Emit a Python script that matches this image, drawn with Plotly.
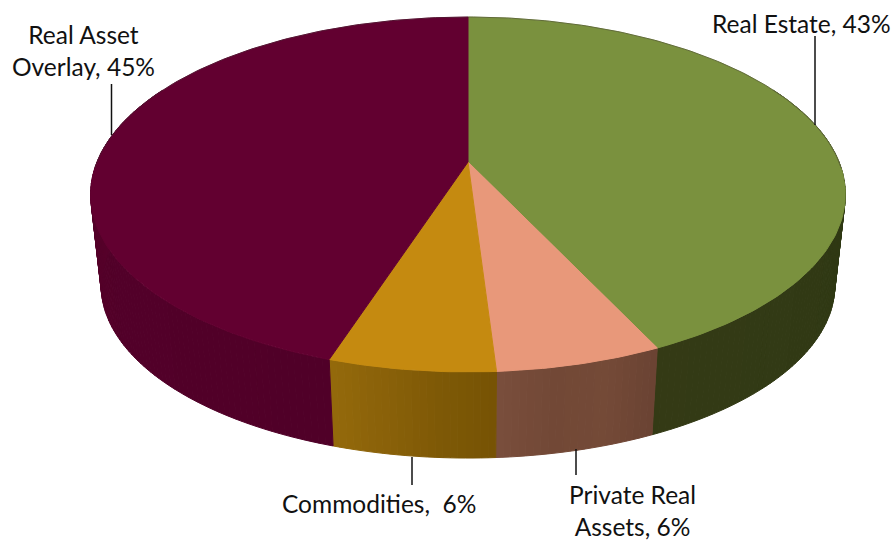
import math
import plotly.graph_objects as go

# Shares of the real assets allocation, clockwise from twelve o'clock
categories = ["Real Estate", "Private Real Assets", "Commodities", "Real Asset Overlay"]
shares = [43, 6, 6, 45]
top_colors = ["#7A913E", "#E8987A", "#C58A10", "#620030"]
# Side wall tones, sampled from the start to the end of each slice
wall_tones = [
    ["#2F3914", "#2D3713", "#2F3914", "#343A15"],
    ["#6A4233", "#744A37", "#724836", "#7A4E3C"],
    ["#775304", "#7E5906", "#8A6109", "#946A0B"],
    ["#500028", "#530029", "#5C002C", "#620030"],
]
label_lines = [
    ["Real Estate, 43%"],
    ["Private Real", "Assets, 6%"],
    ["Commodities,\u00a0 6%"],
    ["Real Asset", "Overlay, 45%"],
]
label_centers = [(801, 23), (632, 510), (379, 503), (83, 50)]
leaders = [(815, 36, 815, 125), (576, 449, 576, 475), (412, 457, 412, 485), (111.5, 84, 111.5, 135)]

# Perspective model of the disc: apex position, radii and foreshortening
CX, CY = 468, 162
RX, RY, K = 371, 171.5, 0.183
BASE_SCALE, BASE_DROP = 0.972, 92


def project(angle, radius=1.0, base=False):
    u = radius * math.sin(angle)
    v = radius * math.cos(angle)
    w = 1 + K * v
    s = BASE_SCALE if base else 1.0
    d = BASE_DROP if base else 0.0
    return CX + s * RX * u / w, CY + d - s * RY * v / w


def mix(tones, t):
    pos = t * (len(tones) - 1)
    i = min(int(pos), len(tones) - 2)
    f = pos - i
    a = [int(tones[i][j:j + 2], 16) for j in (1, 3, 5)]
    b = [int(tones[i + 1][j:j + 2], 16) for j in (1, 3, 5)]
    return "rgb({},{},{})".format(*[round(p + (q - p) * f) for p, q in zip(a, b)])


total = sum(shares)
edges = [0.0]
for share in shares:
    edges.append(edges[-1] + share / total * 2 * math.pi)

fig = go.Figure()

# Side wall, only the strips that face the viewer
for idx, name in enumerate(categories):
    start, end = edges[idx], edges[idx + 1]
    steps = max(20, round((end - start) / math.radians(1)))
    for n in range(steps):
        a0 = start + (end - start) * n / steps
        a1 = start + (end - start) * (n + 1) / steps
        mid = (a0 + a1) / 2
        if math.cos(mid) > 0.45:
            continue
        tone = mix(wall_tones[idx], (n + 0.5) / steps)
        pts = [project(a0), project(a1), project(a1, base=True), project(a0, base=True)]
        xs = [p[0] for p in pts] + [pts[0][0]]
        ys = [p[1] for p in pts] + [pts[0][1]]
        fig.add_trace(go.Scatter(x=xs, y=ys, mode="lines", fill="toself", fillcolor=tone,
                                 line=dict(color=tone, width=1), hoverinfo="skip", showlegend=False))

# Top face of each slice
for idx, name in enumerate(categories):
    start, end = edges[idx], edges[idx + 1]
    steps = max(12, round((end - start) / math.radians(1)))
    rim = [project(start + (end - start) * n / steps) for n in range(steps + 1)]
    xs = [CX] + [p[0] for p in rim] + [CX]
    ys = [CY] + [p[1] for p in rim] + [CY]
    fig.add_trace(go.Scatter(x=xs, y=ys, mode="lines", fill="toself", fillcolor=top_colors[idx],
                             line=dict(color=top_colors[idx], width=1), name=name,
                             hoverinfo="name", showlegend=False))

# Thin dark edge along the back of the disc
back = [project(math.radians(a)) for a in range(-92, 93)]
fig.add_trace(go.Scatter(x=[p[0] for p in back], y=[p[1] for p in back], mode="lines",
                         line=dict(color="rgba(60,50,50,0.4)", width=1),
                         hoverinfo="skip", showlegend=False))

shapes = [dict(type="line", xref="x", yref="y", x0=x0, y0=y0, x1=x1, y1=y1,
               line=dict(color="#111111", width=1.5)) for x0, y0, x1, y1 in leaders]

annotations = [dict(x=cx, y=cy, xref="x", yref="y", text="<br>".join(lines), showarrow=False,
                    font=dict(family="Lato, Carlito, sans-serif", size=24.5, color="#111111"),
                    align="center", xanchor="center", yanchor="middle")
               for lines, (cx, cy) in zip(label_lines, label_centers)]

fig.update_layout(
    width=895, height=540, margin=dict(l=0, r=0, t=0, b=0),
    paper_bgcolor="white", plot_bgcolor="white", showlegend=False,
    xaxis=dict(range=[0, 895], visible=False, fixedrange=True),
    yaxis=dict(range=[540, 0], visible=False, fixedrange=True),
    shapes=shapes, annotations=annotations,
)
fig.write_html("out.html")
